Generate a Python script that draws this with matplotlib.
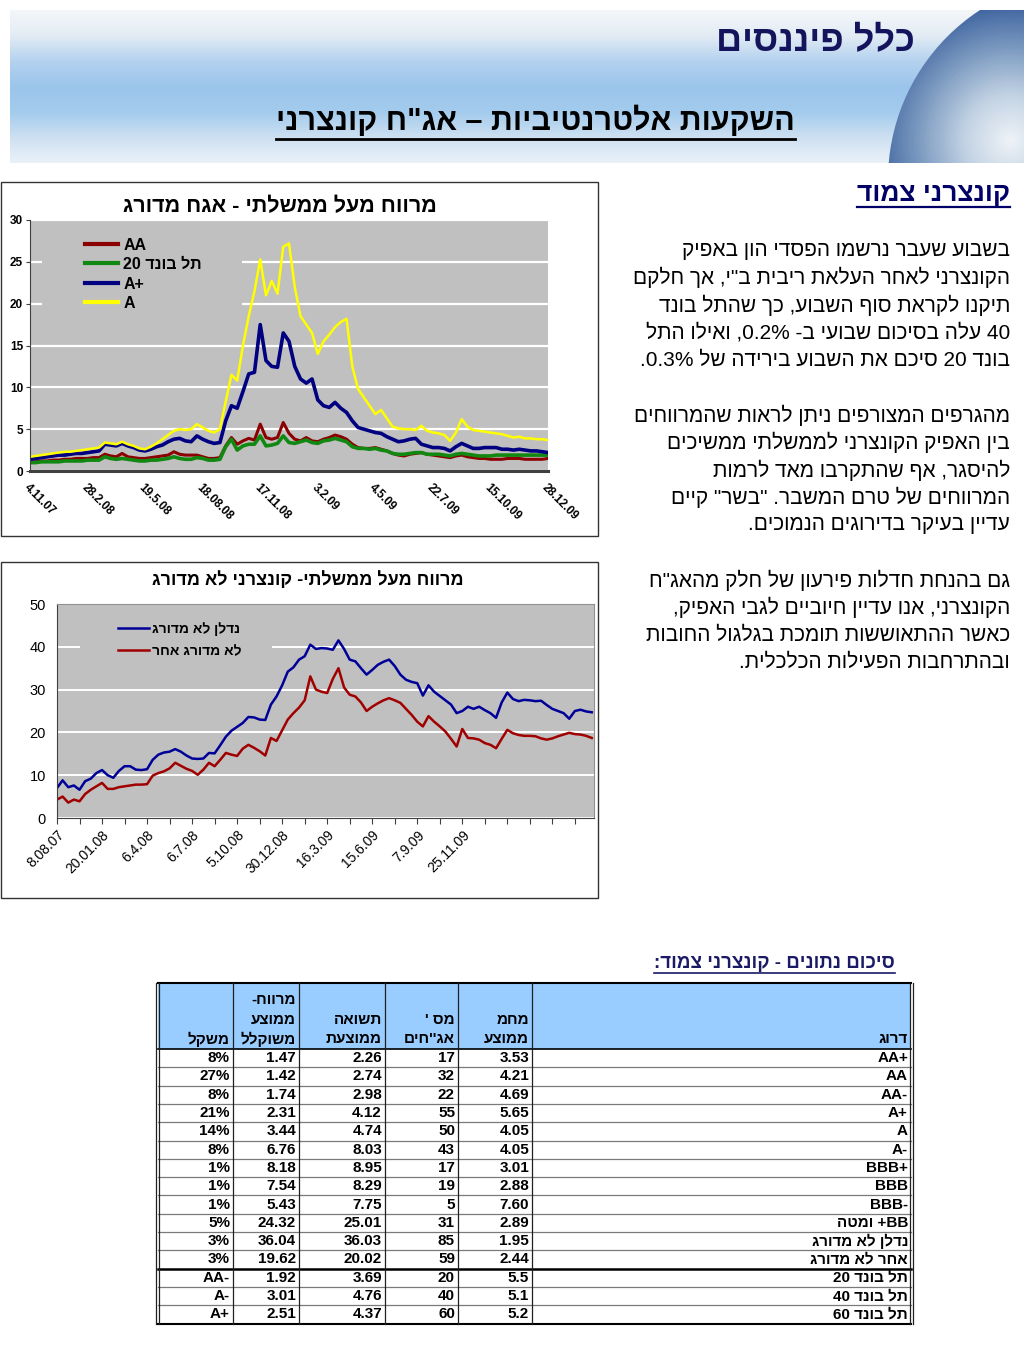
import re
import numpy as np
import matplotlib
matplotlib.use('Agg')
import matplotlib.pyplot as plt
from matplotlib.patches import Rectangle, Circle
from matplotlib.colors import LinearSegmentedColormap

plt.rcParams['font.family'] = ['Liberation Sans', 'DejaVu Sans']

W, H = 1024, 1365


def rtl(s):
    # crude visual reordering for a right-to-left line
    r = s[::-1]
    return re.sub(r'[0-9A-Za-z%][0-9A-Za-z.%+\-]*', lambda m: m.group(0)[::-1], r)


# ---- chart 1: spread over government, rated bonds ----
dates1 = ['4.11.07', '28.2.08', '19.5.08', '18.08.08', '17.11.08',
          '3.2.09', '4.5.09', '22.7.09', '15.10.09', '28.12.09']
aa = [1.1, 1.1, 1.2, 1.2, 1.3, 1.3, 1.4, 1.4, 1.5, 1.5,
      1.5, 1.6, 1.6, 2.0, 1.8, 1.7, 2.1, 1.7, 1.6, 1.5,
      1.5, 1.6, 1.7, 1.8, 1.9, 2.3, 2.0, 1.9, 1.9, 1.9,
      1.7, 1.5, 1.5, 1.6, 3.0, 4.0, 3.2, 3.6, 3.9, 3.7,
      5.6, 4.0, 3.8, 4.0, 5.8, 4.5, 3.8, 3.6, 4.0, 3.6,
      3.5, 3.8, 4.0, 4.3, 4.1, 3.8, 3.2, 2.8, 2.7, 2.7,
      2.8, 2.6, 2.4, 2.1, 1.9, 1.8, 2.0, 2.1, 2.2, 2.0,
      1.9, 1.8, 1.7, 1.6, 1.8, 1.9, 1.7, 1.6, 1.5, 1.5,
      1.4, 1.4, 1.4, 1.5, 1.5, 1.5, 1.4, 1.4, 1.4, 1.4, 1.5]
telbond20 = [1.0, 1.0, 1.1, 1.1, 1.1, 1.1, 1.2, 1.2, 1.2, 1.2,
             1.3, 1.3, 1.3, 1.7, 1.5, 1.4, 1.5, 1.4, 1.3, 1.2,
             1.2, 1.3, 1.3, 1.4, 1.5, 1.7, 1.5, 1.4, 1.4, 1.6,
             1.5, 1.3, 1.3, 1.4, 2.9, 3.8, 2.5, 3.0, 3.2, 3.2,
             4.2, 3.0, 3.1, 3.3, 4.2, 3.4, 3.3, 3.5, 3.7, 3.4,
             3.3, 3.6, 3.7, 3.9, 3.7, 3.5, 2.9, 2.7, 2.7, 2.6,
             2.7, 2.5, 2.4, 2.1, 2.0, 2.0, 2.1, 2.2, 2.2, 2.0,
             2.0, 2.0, 1.9, 1.8, 2.0, 2.1, 2.0, 1.9, 1.8, 1.8,
             1.8, 1.9, 1.9, 1.9, 1.9, 1.9, 1.9, 1.9, 1.9, 1.9, 1.9]
a_plus = [1.4, 1.5, 1.6, 1.7, 1.8, 1.9, 1.9, 2.0, 2.1, 2.1,
          2.2, 2.3, 2.4, 3.2, 3.1, 3.0, 3.3, 3.0, 2.8, 2.5,
          2.4, 2.6, 2.9, 3.1, 3.5, 3.8, 3.9, 3.6, 3.5, 4.2,
          3.8, 3.5, 3.3, 3.4, 6.0, 7.8, 7.5, 9.5, 11.6, 11.8,
          17.5, 13.2, 12.5, 12.4, 16.5, 15.5, 12.5, 11.0, 10.5, 11.0,
          8.5, 7.8, 7.6, 8.2, 7.5, 7.0, 6.0, 5.2, 5.0, 4.8,
          4.6, 4.5, 4.1, 3.8, 3.5, 3.6, 3.8, 3.9, 3.2, 3.0,
          2.8, 2.8, 2.7, 2.4, 2.9, 3.3, 3.0, 2.7, 2.7, 2.8,
          2.8, 2.8, 2.6, 2.6, 2.5, 2.6, 2.5, 2.4, 2.4, 2.3, 2.2]
a_rated = [1.7, 1.8, 1.9, 2.0, 2.1, 2.2, 2.3, 2.3, 2.4, 2.5,
           2.6, 2.7, 2.8, 3.4, 3.3, 3.2, 3.5, 3.2, 3.0, 2.7,
           2.6, 2.9, 3.3, 3.8, 4.3, 4.8, 5.0, 4.9, 5.0, 5.6,
           5.2, 4.8, 4.6, 5.0, 8.3, 11.5, 10.8, 15.0, 18.5, 21.5,
           25.3, 21.0, 22.7, 21.2, 26.8, 27.2, 22.0, 18.5, 17.5, 16.5,
           14.0, 15.5, 16.3, 17.2, 17.8, 18.2, 12.5, 9.8, 8.8, 7.8,
           6.8, 7.3, 6.3, 5.3, 5.1, 5.0, 5.0, 4.9, 5.4, 4.8,
           4.6, 4.5, 4.3, 3.6, 4.6, 6.2, 5.3, 4.9, 4.8, 4.7,
           4.6, 4.5, 4.4, 4.2, 4.0, 4.1, 3.9, 3.9, 3.8, 3.8, 3.7]

# ---- chart 2: spread over government, unrated bonds ----
dates2 = ['8.08.07', '20.01.08', '6.4.08', '6.7.08', '5.10.08',
          '30.12.08', '16.3.09', '15.6.09', '7.9.09', '25.11.09']
nadlan = [7.0, 8.8, 7.2, 7.6, 6.6, 8.6, 9.2, 10.5, 11.2, 10.0,
          9.4, 11.0, 12.1, 12.1, 11.3, 11.2, 11.4, 13.6, 14.8, 15.3,
          15.5, 16.1, 15.5, 14.6, 13.9, 13.8, 13.9, 15.2, 15.1, 17.0,
          19.0, 20.4, 21.3, 22.2, 23.6, 23.5, 23.0, 22.9, 26.5, 28.4,
          31.0, 34.2, 35.2, 37.0, 37.8, 40.5, 39.5, 39.7, 39.6, 39.3,
          41.5, 39.5, 37.0, 36.6, 35.0, 33.5, 34.6, 35.8, 36.5, 37.0,
          35.5, 33.5, 32.3, 31.8, 31.5, 28.6, 31.0, 29.5, 28.5, 27.5,
          26.5, 24.5, 25.0, 26.0, 25.5, 26.0, 25.2, 24.5, 23.4, 27.0,
          29.3, 27.8, 27.3, 27.6, 27.5, 27.3, 27.4, 26.4, 25.5, 25.0,
          24.5, 23.2, 25.0, 25.3, 24.9, 24.7]
other_nr = [4.3, 5.0, 3.6, 4.3, 3.9, 5.6, 6.6, 7.4, 8.2, 6.8,
            6.8, 7.2, 7.4, 7.6, 7.8, 7.8, 7.9, 9.9, 10.5, 10.9,
            11.6, 12.9, 12.2, 11.5, 11.0, 10.1, 11.3, 12.9, 12.1, 13.6,
            15.2, 14.8, 14.5, 16.2, 17.1, 16.4, 15.6, 14.6, 18.7, 18.0,
            20.5, 23.0, 24.5, 25.8, 27.5, 33.1, 30.0, 29.5, 29.2, 32.5,
            35.0, 30.5, 28.8, 28.4, 27.0, 25.0, 26.0, 26.8, 27.5, 28.0,
            27.5, 26.9, 25.5, 24.1, 22.5, 21.4, 23.8, 22.5, 21.4, 20.2,
            18.5, 16.7, 20.8, 18.7, 18.6, 18.3, 17.5, 17.1, 16.3, 18.5,
            20.6, 19.8, 19.4, 19.2, 19.2, 19.1, 18.6, 18.3, 18.6, 19.1,
            19.5, 19.9, 19.6, 19.5, 19.2, 18.7]

# ---- summary table ----
ratings = ['AA+', 'AA', 'AA-', 'A+', 'A', 'A-', 'BBB+', 'BBB', 'BBB-',
           'BB+ ומטה', 'נדלן לא מדורג', 'אחר לא מדורג',
           'תל בונד 20', 'תל בונד 40', 'תל בונד 60']
duration = ['3.53', '4.21', '4.69', '5.65', '4.05', '4.05', '3.01', '2.88',
            '7.60', '2.89', '1.95', '2.44', '5.5', '5.1', '5.2']
n_bonds = ['17', '32', '22', '55', '50', '43', '17', '19', '5', '31', '85',
           '59', '20', '40', '60']
avg_yield = ['2.26', '2.74', '2.98', '4.12', '4.74', '8.03', '8.95', '8.29',
             '7.75', '25.01', '36.03', '20.02', '3.69', '4.76', '4.37']
avg_spread = ['1.47', '1.42', '1.74', '2.31', '3.44', '6.76', '8.18', '7.54',
              '5.43', '24.32', '36.04', '19.62', '1.92', '3.01', '2.51']
weight = ['8%', '27%', '8%', '21%', '14%', '8%', '1%', '1%', '1%', '5%',
          '3%', '3%', 'AA-', 'A-', 'A+']
headers = [['משקל'], ['מרווח-', 'ממוצע', 'משוקלל'], ['תשואה', 'ממוצעת'],
           ["מס '", "אג''חים"], ['מחמ', 'ממוצע'], ['דרוג']]

body_lines = [
    'בשבוע שעבר נרשמו הפסדי הון באפיק',
    'הקונצרני לאחר העלאת ריבית ב"י, אך חלקם',
    'תיקנו לקראת סוף השבוע, כך שהתל בונד',
    '40 עלה בסיכום שבועי ב- 0.2%, ואילו התל',
    'בונד 20 סיכם את השבוע בירידה של 0.3%.',
    '',
    'מהגרפים המצורפים ניתן לראות שהמרווחים',
    'בין האפיק הקונצרני לממשלתי ממשיכים',
    'להיסגר, אף שהתקרבו מאד לרמות',
    'המרווחים של טרם המשבר. "בשר" קיים',
    'עדיין בעיקר בדירוגים הנמוכים.',
    '',
    'גם בהנחת חדלות פירעון של חלק מהאג"ח',
    'הקונצרני, אנו עדיין חיוביים לגבי האפיק,',
    'כאשר ההתאוששות תומכת בגלגול החובות',
    'ובהתרחבות הפעילות הכלכלית.',
]

fig = plt.figure(figsize=(W / 100, H / 100), dpi=100)
bg = fig.add_axes([0, 0, 1, 1])


def fax(x0, y0, x1, y1):
    return fig.add_axes([x0 / W, 1 - y1 / H, (x1 - x0) / W, (y1 - y0) / H])


# header: sky band and globe
sky = LinearSegmentedColormap.from_list(
    'sky', ['#f4f7fa', '#e2ebf4', '#b4d2ef', '#9cc5ec', '#a3cbed', '#cde0f1', '#eaf1f8'])
bg.imshow(np.linspace(0, 1, 200)[:, None], cmap=sky, aspect='auto',
          extent=[10, W, 163, 10], origin='upper', zorder=0)
globe = LinearSegmentedColormap.from_list(
    'globe', ['#eef3f7', '#c3d3e4', '#7f9dc2', '#3f64a0', '#24457c'])
gy, gx = np.mgrid[10:163, 885:W]
shade = np.hypot(gx - 1010.0, gy - 140.0)
im = bg.imshow(shade, cmap=globe, aspect='auto', extent=[885, W, 163, 10],
               origin='upper', zorder=1)
clip = Circle((1091, 180), 203, transform=bg.transData)
im.set_clip_path(clip)

bg.set_xlim(0, W)
bg.set_ylim(H, 0)
bg.axis('off')

under = []
bg.text(915, 42, rtl('כלל פיננסים'), fontsize=26, fontweight='bold',
        color='#14145c', ha='right', va='center', zorder=3)
t = bg.text(795, 121, rtl('השקעות אלטרנטיביות – אג"ח קונצרני'), fontsize=22,
            fontweight='bold', color='black', ha='right', va='center', zorder=3)
under.append((t, 'black', 2.0, 2))

# chart frames
bg.add_patch(Rectangle((1, 182), 597, 354, fc='white', ec='#333333', lw=1.0))
bg.add_patch(Rectangle((1, 562), 597, 336, fc='white', ec='#333333', lw=1.0))
bg.text(280, 207, rtl('מרווח מעל ממשלתי - אגח מדורג'), fontsize=15.5,
        fontweight='bold', ha='center', va='center')
bg.text(308, 580, rtl('מרווח מעל ממשלתי- קונצרני לא מדורג'), fontsize=13,
        fontweight='bold', ha='center', va='center')

# right column text
t = bg.text(1010, 194, rtl('קונצרני צמוד'), fontsize=19, fontweight='bold',
            color='#000066', ha='right', va='center')
under.append((t, '#000066', 1.6, 1))
for k, line in enumerate(body_lines):
    if line:
        bg.text(1010, 250 + k * 27.5, rtl(line), fontsize=15, ha='right',
                va='center')

# table
t = bg.text(895, 963, rtl('סיכום נתונים - קונצרני צמוד:'), fontsize=13.5,
            fontweight='bold', color='#1a1a66', ha='right', va='center')
under.append((t, '#1a1a66', 1.2, 1))

cols = [158, 233, 299, 385, 458, 532, 911]
top, head_bot, rh = 983, 1049, 18.3
nrow = len(ratings)
bottom = head_bot + nrow * rh
bg.add_patch(Rectangle((cols[0], top), cols[-1] - cols[0], head_bot - top,
                       fc='#99ccff', ec='none'))
for r in range(1, nrow):
    yy = head_bot + r * rh
    if r == 12:
        bg.plot([cols[0], cols[-1]], [yy, yy], color='black', lw=1.8)
    else:
        bg.plot([cols[0], cols[-1]], [yy, yy], color='#7a7a7a', lw=0.9)
bg.plot([cols[0], cols[-1]], [head_bot, head_bot], color='black', lw=1.2)
bg.plot([cols[0], cols[-1]], [top, top], color='black', lw=1.5)
bg.plot([cols[0], cols[-1]], [bottom, bottom], color='black', lw=1.5)
for c in cols[1:-1]:
    bg.plot([c, c], [top, bottom], color='#202020', lw=0.9)
for c in (cols[0] - 2, cols[0] + 1, cols[-1] - 1, cols[-1] + 2):
    bg.plot([c, c], [top, bottom], color='#202020', lw=0.9)

for j, lines in enumerate(headers):
    for m, txt in enumerate(lines):
        bg.text(cols[j + 1] - 3, 1039 - (len(lines) - 1 - m) * 19.5, rtl(txt),
                fontsize=11, fontweight='bold', ha='right', va='center')

table_cols = [weight, avg_spread, avg_yield, n_bonds, duration, ratings]
for j, colvals in enumerate(table_cols):
    for r, v in enumerate(colvals):
        txt = rtl(v) if re.search('[\u0590-\u05ff]', v) else v
        bg.text(cols[j + 1] - 3, head_bot + (r + 0.5) * rh, txt, fontsize=11,
                fontweight='bold', ha='right', va='center')

# ---- chart 1 ----
ax1 = fax(30, 220, 548, 471)
ax1.set_facecolor('#c0c0c0')
x1 = np.arange(len(aa))
ax1.plot(x1, aa, color='#8b0000', lw=2.2, label='AA')
ax1.plot(x1, telbond20, color='#118811', lw=2.6, label=rtl('תל בונד 20'))
ax1.plot(x1, a_plus, color='#000080', lw=2.6, label='A+')
ax1.plot(x1, a_rated, color='#ffff00', lw=1.8, label='A')
ax1.set_xlim(0, len(aa) - 1)
ax1.set_ylim(0, 30)
ax1.set_yticks(range(0, 31, 5))
ax1.yaxis.grid(True, color='white', lw=1.6)
ax1.set_axisbelow(True)
ax1.add_patch(Rectangle((0.023, 0.633), 0.386, 0.319, transform=ax1.transAxes,
                        fc='#c0c0c0', ec='none', zorder=1))
ax1.set_xticks(range(0, len(aa), 10))
ax1.set_xticklabels(dates1, rotation=-45, ha='left', va='top', fontsize=8.5,
                    fontweight='bold', rotation_mode='anchor')
ax1.tick_params(axis='x', length=0, pad=8)
ax1.tick_params(axis='y', labelsize=8.5, length=3, color='#404040', pad=2)
for lbl in ax1.get_yticklabels():
    lbl.set_fontweight('bold')
for s in ('top', 'right'):
    ax1.spines[s].set_visible(False)
ax1.spines['bottom'].set_color('#404040')
ax1.spines['bottom'].set_linewidth(2.2)
ax1.spines['left'].set_color('#404040')
leg = ax1.legend(loc='upper left', bbox_to_anchor=(0.106, 0.93), frameon=False,
                 borderaxespad=0, borderpad=0, handlelength=2.1,
                 handletextpad=0.3, labelspacing=0.28,
                 prop={'weight': 'bold', 'size': 11.5})
for h in leg.get_lines():
    h.set_linewidth(3)

# ---- chart 2 ----
ax2 = fax(57, 604, 594, 818)
ax2.set_facecolor('#c0c0c0')
x2 = np.arange(len(nadlan))
ax2.plot(x2, nadlan, color='#000099', lw=1.8, label=rtl('נדלן לא מדורג'))
ax2.plot(x2, other_nr, color='#a00000', lw=1.8, label=rtl('לא מדורג אחר'))
ax2.set_xlim(0, 95.4)
ax2.set_ylim(0, 50)
ax2.set_yticks(range(0, 51, 10))
ax2.yaxis.grid(True, color='white', lw=1.4)
ax2.set_axisbelow(True)
ax2.add_patch(Rectangle((0.043, 0.70), 0.358, 0.234, transform=ax2.transAxes,
                        fc='#c0c0c0', ec='none', zorder=1))
ticks2 = list(range(0, 93, 4))
lbls2 = [dates2[k // 2] if k % 2 == 0 and k // 2 < len(dates2) else ''
         for k in range(len(ticks2))]
ax2.set_xticks(ticks2)
ax2.set_xticklabels(lbls2, rotation=45, ha='right', va='top', fontsize=10,
                    rotation_mode='anchor')
ax2.tick_params(axis='x', length=4, color='#404040', pad=3)
ax2.tick_params(axis='y', labelsize=10.5, length=0, pad=8)
for s in ('top', 'right'):
    ax2.spines[s].set_color('#909090')
    ax2.spines[s].set_linewidth(0.8)
for s in ('bottom', 'left'):
    ax2.spines[s].set_color('#404040')
ax2.legend(loc='upper left', bbox_to_anchor=(0.114, 0.915), frameon=False,
           borderaxespad=0, borderpad=0, handlelength=2.2, handletextpad=0.2,
           labelspacing=0.55, prop={'weight': 'bold', 'size': 10})

# underlines for headings
fig.canvas.draw()
inv = bg.transData.inverted()
for txt, col, lw, off in under:
    bb = txt.get_window_extent()
    (xa, ya), (xb, yb) = inv.transform([[bb.x0, bb.y0], [bb.x1, bb.y1]])
    bg.plot([xa, xb], [ya + off, ya + off], color=col, lw=lw, zorder=3)

fig.savefig('out.png', dpi=100)
